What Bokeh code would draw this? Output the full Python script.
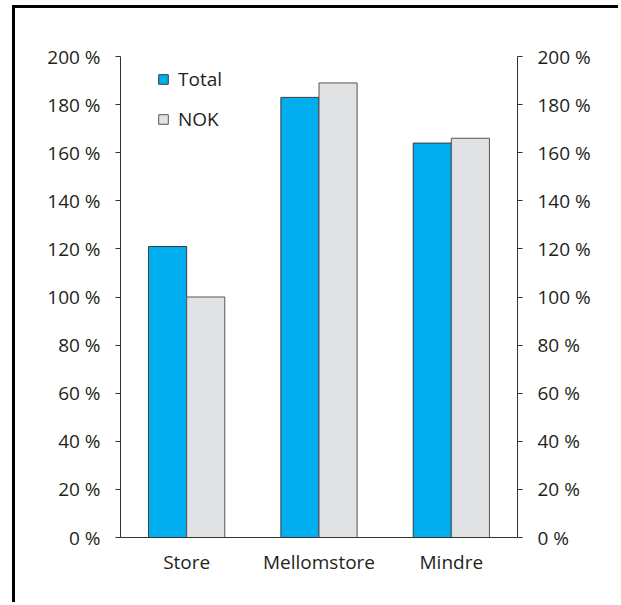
from bokeh.plotting import figure
from bokeh.models import (ColumnDataSource, FactorRange, LinearAxis, Legend, LegendItem,
                          PrintfTickFormatter, FixedTicker, Range1d)
from bokeh.transform import dodge
from bokeh.embed import file_html
from bokeh.resources import INLINE

categories = ["Store", "Mellomstore", "Mindre"]
total = [121, 183, 164]
nok = [100, 189, 166]
series_names = ["Total", "NOK"]
y_ticks = [0, 20, 40, 60, 80, 100, 120, 140, 160, 180, 200]

FONT = "Open Sans"
FS = "19px"
TXT = "#231f20"

src = ColumnDataSource(dict(cat=categories, total=total, nok=nok))

p = figure(width=606, height=597, x_range=FactorRange(*categories, range_padding=0),
           y_range=Range1d(0, 200), output_backend="svg", toolbar_location=None,
           min_border_left=105, min_border_right=104, min_border_top=48, min_border_bottom=68)
p.styles = {"margin-left": "12px", "margin-top": "5px",
            "border-left": "3px solid black", "border-top": "3px solid black"}
p.outline_line_color = None
p.xgrid.visible = False
p.ygrid.visible = False
p.background_fill_color = "white"
p.border_fill_color = "white"

bw = 0.288
r1 = p.vbar(x=dodge("cat", -bw / 2, range=p.x_range), top="total", width=bw, source=src,
            fill_color="#00aeef", line_color="#3c3c3c", line_width=1)
r2 = p.vbar(x=dodge("cat", bw / 2, range=p.x_range), top="nok", width=bw, source=src,
            fill_color="#e1e2e4", line_color="#555555", line_width=1)

# bottom axis
xa = p.xaxis[0]
xa.major_tick_line_color = None
xa.minor_tick_line_color = None
xa.axis_line_color = "#333333"
xa.major_label_text_font = FONT
xa.major_label_text_font_size = FS
xa.major_label_text_color = TXT
xa.major_label_standoff = 5

fmt = PrintfTickFormatter(format="%d %%")
ya = p.yaxis[0]
ya.ticker = FixedTicker(ticks=y_ticks)
ya.formatter = fmt

ra = LinearAxis(ticker=FixedTicker(ticks=y_ticks), formatter=fmt)
p.add_layout(ra, "right")

for a in (ya, ra):
    a.major_tick_in = 0
    a.major_tick_out = 5
    a.minor_tick_line_color = None
    a.axis_line_color = "#333333"
    a.major_tick_line_color = "#333333"
    a.major_label_text_font = FONT
    a.major_label_text_font_size = FS
    a.major_label_text_color = TXT
    a.major_label_standoff = 15

legend = Legend(items=[LegendItem(label=series_names[0], renderers=[r1]),
                       LegendItem(label=series_names[1], renderers=[r2])],
                location=(37, 405), orientation="vertical",
                glyph_width=12, glyph_height=12, label_height=20, spacing=14,
                padding=0, margin=0, label_standoff=9,
                label_text_font=FONT, label_text_font_size=FS, label_text_color=TXT,
                border_line_color=None, background_fill_alpha=0)
p.add_layout(legend)

open("out.html", "w").write(file_html(p, INLINE))
